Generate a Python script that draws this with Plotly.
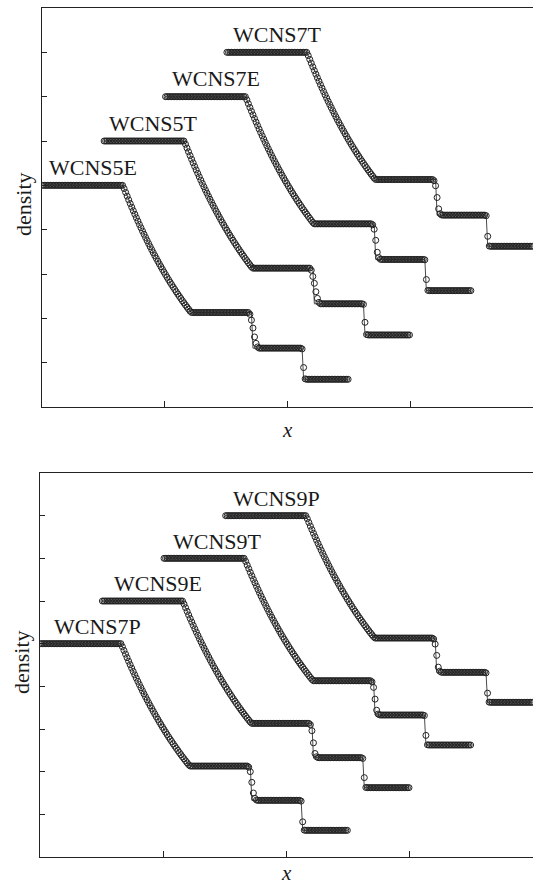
import plotly.graph_objects as go

# ---------------- data ----------------
# cell centres of the 200-cell grid on [0, 1]
x_cells = [
    0.0025, 0.0075, 0.0125, 0.0175, 0.0225, 0.0275, 0.0325, 0.0375, 0.0425, 0.0475,
    0.0525, 0.0575, 0.0625, 0.0675, 0.0725, 0.0775, 0.0825, 0.0875, 0.0925, 0.0975,
    0.1025, 0.1075, 0.1125, 0.1175, 0.1225, 0.1275, 0.1325, 0.1375, 0.1425, 0.1475,
    0.1525, 0.1575, 0.1625, 0.1675, 0.1725, 0.1775, 0.1825, 0.1875, 0.1925, 0.1975,
    0.2025, 0.2075, 0.2125, 0.2175, 0.2225, 0.2275, 0.2325, 0.2375, 0.2425, 0.2475,
    0.2525, 0.2575, 0.2625, 0.2675, 0.2725, 0.2775, 0.2825, 0.2875, 0.2925, 0.2975,
    0.3025, 0.3075, 0.3125, 0.3175, 0.3225, 0.3275, 0.3325, 0.3375, 0.3425, 0.3475,
    0.3525, 0.3575, 0.3625, 0.3675, 0.3725, 0.3775, 0.3825, 0.3875, 0.3925, 0.3975,
    0.4025, 0.4075, 0.4125, 0.4175, 0.4225, 0.4275, 0.4325, 0.4375, 0.4425, 0.4475,
    0.4525, 0.4575, 0.4625, 0.4675, 0.4725, 0.4775, 0.4825, 0.4875, 0.4925, 0.4975,
    0.5025, 0.5075, 0.5125, 0.5175, 0.5225, 0.5275, 0.5325, 0.5375, 0.5425, 0.5475,
    0.5525, 0.5575, 0.5625, 0.5675, 0.5725, 0.5775, 0.5825, 0.5875, 0.5925, 0.5975,
    0.6025, 0.6075, 0.6125, 0.6175, 0.6225, 0.6275, 0.6325, 0.6375, 0.6425, 0.6475,
    0.6525, 0.6575, 0.6625, 0.6675, 0.6725, 0.6775, 0.6825, 0.6875, 0.6925, 0.6975,
    0.7025, 0.7075, 0.7125, 0.7175, 0.7225, 0.7275, 0.7325, 0.7375, 0.7425, 0.7475,
    0.7525, 0.7575, 0.7625, 0.7675, 0.7725, 0.7775, 0.7825, 0.7875, 0.7925, 0.7975,
    0.8025, 0.8075, 0.8125, 0.8175, 0.8225, 0.8275, 0.8325, 0.8375, 0.8425, 0.8475,
    0.8525, 0.8575, 0.8625, 0.8675, 0.8725, 0.8775, 0.8825, 0.8875, 0.8925, 0.8975,
    0.9025, 0.9075, 0.9125, 0.9175, 0.9225, 0.9275, 0.9325, 0.9375, 0.9425, 0.9475,
    0.9525, 0.9575, 0.9625, 0.9675, 0.9725, 0.9775, 0.9825, 0.9875, 0.9925, 0.9975,
]

# reference (exact) density profile at the cell centres
rho_exact = [
    # left state (53 cells)
    1.0, 1.0, 1.0, 1.0, 1.0, 1.0, 1.0, 1.0, 1.0, 1.0,
    1.0, 1.0, 1.0, 1.0, 1.0, 1.0, 1.0, 1.0, 1.0, 1.0,
    1.0, 1.0, 1.0, 1.0, 1.0, 1.0, 1.0, 1.0, 1.0, 1.0,
    1.0, 1.0, 1.0, 1.0, 1.0, 1.0, 1.0, 1.0, 1.0, 1.0,
    1.0, 1.0, 1.0, 1.0, 1.0, 1.0, 1.0, 1.0, 1.0, 1.0,
    1.0, 1.0, 1.0,
    # expansion fan (44 cells)
    0.9855, 0.9682, 0.9512, 0.9344, 0.9178, 0.9015, 0.8854, 0.8696, 0.8539, 0.8385,
    0.8233, 0.8084, 0.7936, 0.7791, 0.7648, 0.7507, 0.7368, 0.7231, 0.7096, 0.6963,
    0.6833, 0.6704, 0.6577, 0.6452, 0.6329, 0.6208, 0.6088, 0.5971, 0.5855, 0.5741,
    0.5629, 0.5519, 0.5410, 0.5304, 0.5198, 0.5095, 0.4993, 0.4893, 0.4794, 0.4697,
    0.4602, 0.4508, 0.4416, 0.4325,
    # plateau behind fan (40 cells)
    0.4263, 0.4263, 0.4263, 0.4263, 0.4263, 0.4263, 0.4263, 0.4263, 0.4263, 0.4263,
    0.4263, 0.4263, 0.4263, 0.4263, 0.4263, 0.4263, 0.4263, 0.4263, 0.4263, 0.4263,
    0.4263, 0.4263, 0.4263, 0.4263, 0.4263, 0.4263, 0.4263, 0.4263, 0.4263, 0.4263,
    0.4263, 0.4263, 0.4263, 0.4263, 0.4263, 0.4263, 0.4263, 0.4263, 0.4263, 0.4263,
    # post-shock plateau (33 cells)
    0.2656, 0.2656, 0.2656, 0.2656, 0.2656, 0.2656, 0.2656, 0.2656, 0.2656, 0.2656,
    0.2656, 0.2656, 0.2656, 0.2656, 0.2656, 0.2656, 0.2656, 0.2656, 0.2656, 0.2656,
    0.2656, 0.2656, 0.2656, 0.2656, 0.2656, 0.2656, 0.2656, 0.2656, 0.2656, 0.2656,
    0.2656, 0.2656, 0.2656,
    # right state (30 cells)
    0.125, 0.125, 0.125, 0.125, 0.125, 0.125, 0.125, 0.125, 0.125, 0.125,
    0.125, 0.125, 0.125, 0.125, 0.125, 0.125, 0.125, 0.125, 0.125, 0.125,
    0.125, 0.125, 0.125, 0.125, 0.125, 0.125, 0.125, 0.125, 0.125, 0.125,
]

# scheme-specific values across the contact (cells 134-141) and shock (cells 168-172)
schemes_top = ["WCNS5E", "WCNS5T", "WCNS7E", "WCNS7T"]
schemes_bottom = ["WCNS7P", "WCNS9E", "WCNS9T", "WCNS9P"]

contact_values = {
    "WCNS5E": [0.4263, 0.418, 0.392, 0.356, 0.316, 0.287, 0.271, 0.2656],
    "WCNS5T": [0.4263, 0.417, 0.389, 0.358, 0.320, 0.290, 0.272, 0.2656],
    "WCNS7E": [0.4263, 0.422, 0.402, 0.352, 0.298, 0.274, 0.2665, 0.2656],
    "WCNS7T": [0.4263, 0.421, 0.398, 0.345, 0.294, 0.272, 0.266, 0.2656],
    "WCNS7P": [0.4263, 0.421, 0.400, 0.350, 0.300, 0.275, 0.267, 0.2656],
    "WCNS9E": [0.4263, 0.420, 0.392, 0.335, 0.285, 0.270, 0.266, 0.2656],
    "WCNS9T": [0.4263, 0.421, 0.395, 0.340, 0.288, 0.270, 0.266, 0.2656],
    "WCNS9P": [0.4263, 0.422, 0.398, 0.345, 0.290, 0.271, 0.266, 0.2656],
}
shock_values = {
    "WCNS5E": [0.2656, 0.262, 0.178, 0.127, 0.125],
    "WCNS5T": [0.2656, 0.263, 0.182, 0.127, 0.125],
    "WCNS7E": [0.2656, 0.264, 0.175, 0.126, 0.125],
    "WCNS7T": [0.2656, 0.263, 0.170, 0.126, 0.125],
    "WCNS7P": [0.2656, 0.262, 0.165, 0.126, 0.125],
    "WCNS9E": [0.2656, 0.262, 0.172, 0.126, 0.125],
    "WCNS9T": [0.2656, 0.263, 0.170, 0.126, 0.125],
    "WCNS9P": [0.2656, 0.263, 0.168, 0.126, 0.125],
}

# stacking of the curves inside each panel
x_shift = [0.0, 0.2, 0.4, 0.6]
y_shift = [0.0, 1.0, 2.0, 3.0]
density_scale = 5.0

# label anchor positions (data units) for each curve
label_x_top = [0.166, 0.362, 0.567, 0.769]
label_x_bottom = [0.186, 0.384, 0.577, 0.769]
label_y = [5.4, 6.4, 7.4, 8.4]

# axis ticks
x_ticks = [0.4, 0.8, 1.2]
y_ticks = [1, 2, 3, 4, 5, 6, 7, 8]

# ---------------- figure ----------------
W, H = 533, 888
FONT = "Liberation Serif, Times New Roman, serif"
fig = go.Figure()


def add_panel(schemes, xa, ya, label_xs):
    for j, name in enumerate(schemes):
        num = list(rho_exact)
        num[134:142] = contact_values[name]
        num[168:173] = shock_values[name]
        xs = [v + x_shift[j] for v in x_cells]
        ys_exact = [density_scale * r + y_shift[j] for r in rho_exact]
        ys_num = [density_scale * r + y_shift[j] for r in num]
        fig.add_trace(go.Scatter(
            x=xs, y=ys_exact, mode="lines", xaxis=xa, yaxis=ya,
            line=dict(color="#4a4a4a", width=1), showlegend=False,
            hoverinfo="skip"))
        fig.add_trace(go.Scatter(
            x=xs, y=ys_num, mode="markers", xaxis=xa, yaxis=ya, name=name,
            marker=dict(symbol="circle-open", size=6, color="#222222",
                        line=dict(width=1.0, color="#222222")),
            showlegend=False))
        fig.add_annotation(
            x=label_xs[j], y=label_y[j], xref=xa, yref=ya, text=name,
            xanchor="center", yanchor="middle",
            showarrow=False, font=dict(family=FONT, size=22, color="#1a1a1a"))


add_panel(schemes_top, "x", "y", label_x_top)
add_panel(schemes_bottom, "x2", "y2", label_x_bottom)

ax_common = dict(
    range=[0, 1.6], tickvals=x_ticks, showticklabels=False, ticks="inside",
    ticklen=6, tickwidth=1, tickcolor="#222", showline=True, linecolor="#222",
    linewidth=1.3, mirror=True, showgrid=False, zeroline=False)
ay_common = dict(
    range=[0, 9], tickvals=y_ticks, showticklabels=False, ticks="inside",
    ticklen=5, tickwidth=1, tickcolor="#222", showline=True, linecolor="#222",
    linewidth=1.3, showgrid=False, zeroline=False)

top_y0, top_y1 = 1 - 407 / H, 1 - 8 / H
bot_y0, bot_y1 = 1 - 857 / H, 1 - 473 / H

fig.update_layout(
    width=W, height=H,
    margin=dict(l=0, r=0, t=0, b=0),
    paper_bgcolor="white", plot_bgcolor="white",
    xaxis=dict(domain=[42 / W, 1.0], anchor="y", **ax_common),
    yaxis=dict(domain=[top_y0, top_y1], anchor="x", **ay_common),
    xaxis2=dict(domain=[40 / W, 1.0], anchor="y2", **ax_common),
    yaxis2=dict(domain=[bot_y0, bot_y1], anchor="x2", **ay_common),
)

# axis titles
for cx, cy in [(23, 204), (21, 662)]:
    fig.add_annotation(x=cx / W, y=1 - cy / H, xref="paper", yref="paper",
                       xanchor="center", yanchor="middle",
                       text="density", textangle=-90, showarrow=False,
                       font=dict(family=FONT, size=22, color="#1a1a1a"))
for cx, cy in [(287, 430), (286, 873)]:
    fig.add_annotation(x=cx / W, y=1 - cy / H, xref="paper", yref="paper",
                       xanchor="center", yanchor="middle",
                       text="<i>x</i>", showarrow=False,
                       font=dict(family=FONT, size=21, color="#1a1a1a"))

fig.write_html(
    "out.html",
    config={"displayModeBar": False},
    post_script="document.body.style.margin='0';document.body.style.overflow='hidden';",
)
